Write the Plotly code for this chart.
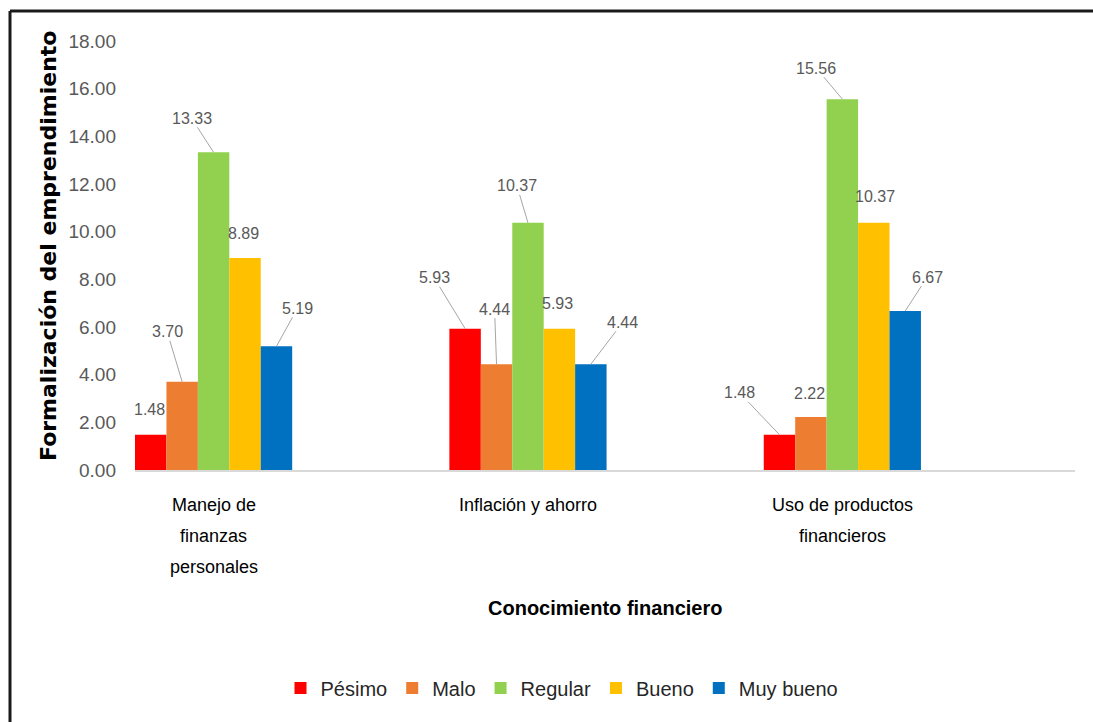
import plotly.graph_objects as go

# ---------------- data ----------------
categories = ["Manejo de finanzas personales", "Inflación y ahorro", "Uso de productos financieros"]
category_lines = [["Manejo de", "finanzas", "personales"], ["Inflación y ahorro"], ["Uso de productos", "financieros"]]
series_names = ["Pésimo", "Malo", "Regular", "Bueno", "Muy bueno"]
pesimo = [1.48, 5.93, 1.48]
malo = [3.70, 4.44, 2.22]
regular = [13.33, 10.37, 15.56]
bueno = [8.89, 5.93, 10.37]
muy_bueno = [5.19, 4.44, 6.67]
series_values = [pesimo, malo, regular, bueno, muy_bueno]
y_ticks = [0, 2, 4, 6, 8, 10, 12, 14, 16, 18]
x_title = "Conocimiento financiero"
y_title = "Formalización del emprendimiento"

# ---------------- style ----------------
colors = ["#FF0000", "#ED7D31", "#92D050", "#FFC000", "#0070C0"]
# label offsets (pixels) relative to bar top, and whether a leader line is drawn
label_offsets = [
    [(-1, -25, False), (-31, -51, True), (-40, -42, True)],
    [(-15, -50, True), (-2, -55, True), (-1, -24, False)],
    [(-22, -34, True), (-11, -37, True), (-26, -31, True)],
    [(-2, -25, False), (-2, -25, False), (1, -26, False)],
    [(21, -38, True), (32, -42, True), (22, -34, True)],
]
W, H = 1093, 722
ML, MR, MT, MB = 135, 18, 41, 252
PW, PH = W - ML - MR, H - MT - MB
FONT = "Liberation Sans, Arial, sans-serif"
GRAY = "#595959"
BARGAP = 0.5
n_series = len(series_names)


def px_to_paper_x(px):
    return (px - ML) / PW


def px_to_paper_y(py):
    return (H - MB - py) / PH


fig = go.Figure()
for name, vals, col in zip(series_names, series_values, colors):
    fig.add_trace(go.Bar(name=name, x=categories, y=vals, marker=dict(color=col, line=dict(width=0))))

annotations = []
bar_w = (1 - BARGAP) / n_series
for si, vals in enumerate(series_values):
    for ci, v in enumerate(vals):
        xc = ci - (1 - BARGAP) / 2 + bar_w * (si + 0.5)
        dx, dy, leader = label_offsets[si][ci]
        if leader:
            annotations.append(dict(
                x=xc, y=v, xref="x", yref="y", text=f"{v:.2f}", showarrow=True,
                ax=dx, ay=dy, axref="pixel", ayref="pixel", arrowhead=0, arrowwidth=1,
                arrowcolor="#A6A6A6", standoff=0, borderpad=0,
                font=dict(family=FONT, size=16, color=GRAY)))
        else:
            annotations.append(dict(
                x=xc, y=v, xref="x", yref="y", text=f"{v:.2f}", showarrow=False,
                xshift=dx, yshift=-dy, xanchor="center", yanchor="middle",
                font=dict(family=FONT, size=16, color=GRAY)))

# category labels (multi-line, wide line spacing)
for ci, lines in enumerate(category_lines):
    for li, line in enumerate(lines):
        annotations.append(dict(
            x=ci, y=0, xref="x", yref="paper", text=line, showarrow=False,
            xanchor="center", yanchor="middle", yshift=-35 - 31 * li,
            font=dict(family=FONT, size=18, color="#000000")))

# axis titles
annotations.append(dict(
    x=0.5, y=0, xref="paper", yref="paper", text=f"<b>{x_title}</b>", showarrow=False,
    xanchor="center", yanchor="middle", yshift=-138,
    font=dict(family=FONT, size=20, color="#000000")))
annotations.append(dict(
    x=0, y=px_to_paper_y(246), xref="paper", yref="paper", text=f"<b>{y_title}</b>",
    showarrow=False, textangle=-90, xanchor="center", yanchor="middle", xshift=-87,
    font=dict(family="DejaVu Sans, sans-serif", size=22, color="#000000")))

shapes = [
    dict(type="line", xref="paper", yref="paper", x0=px_to_paper_x(10), x1=px_to_paper_x(W + 5),
         y0=px_to_paper_y(11), y1=px_to_paper_y(11), line=dict(color="#1a1a1a", width=3)),
    dict(type="line", xref="paper", yref="paper", x0=px_to_paper_x(10), x1=px_to_paper_x(10),
         y0=px_to_paper_y(11), y1=px_to_paper_y(H + 5), line=dict(color="#1a1a1a", width=3)),
]

fig.update_layout(
    width=W, height=H,
    margin=dict(l=ML, r=MR, t=MT, b=MB, pad=0),
    paper_bgcolor="white", plot_bgcolor="white",
    barmode="group", bargap=BARGAP, bargroupgap=0,
    showlegend=True,
    legend=dict(orientation="h", x=px_to_paper_x(562), xanchor="center",
                y=px_to_paper_y(688), yanchor="middle",
                font=dict(family=FONT, size=20, color="#262626"),
                itemclick=False, itemdoubleclick=False, traceorder="normal"),
    xaxis=dict(range=[-(1 - BARGAP) / 2, 2.74], showticklabels=False, showgrid=False,
               showline=True, linecolor="#D9D9D9", linewidth=2, zeroline=False, ticks="",
               fixedrange=True),
    yaxis=dict(range=[0, 18], tickvals=y_ticks, ticktext=[f"{t:.2f}" for t in y_ticks],
               showgrid=False, showline=False, zeroline=False, ticks="", ticklabelstandoff=18,
               tickfont=dict(family=FONT, size=19, color=GRAY), fixedrange=True),
    annotations=annotations,
    shapes=shapes,
)

fig.write_html("out.html", config={"displayModeBar": False},
               post_script="document.body.style.margin='0px';")
